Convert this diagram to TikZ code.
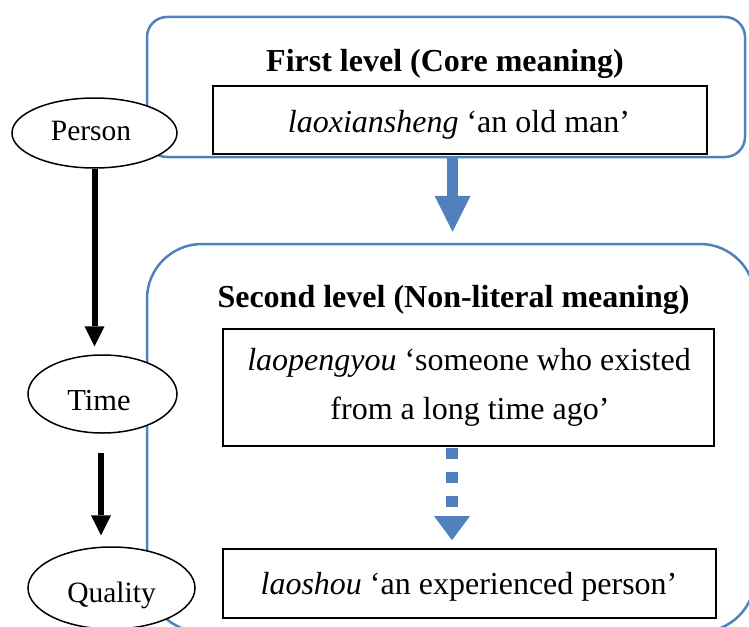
\documentclass[tikz,border=0pt]{standalone}
\usepackage{fontspec}
\setmainfont{Liberation Serif}
\usetikzlibrary{arrows.meta,shapes.geometric,calc}
\definecolor{obl}{RGB}{79,129,189}
\begin{document}
\begin{tikzpicture}[x=1pt,y=-1pt,
  levelbox/.style={draw=obl,line width=2.5pt,inner sep=0pt,minimum width=#1},
  textbox/.style={draw=black,fill=white,line width=1.8pt,inner sep=0pt},
  oval/.style={ellipse,draw=black,fill=white,line width=1.5pt,inner sep=0pt},
  boxtext/.style={anchor=base,inner sep=0pt,font=\fontsize{32}{49}\selectfont},
  titletext/.style={anchor=base,inner sep=0pt,font=\fontsize{32}{49}\selectfont\bfseries},
  ovaltext/.style={anchor=base,inner sep=0pt,font=\fontsize{29.5}{36}\selectfont},
  blkarrow/.style={draw=black,line width=6pt,-{Triangle[width=20pt,length=20pt,line width=0pt]}},
  bluearrow/.style={draw=obl,line width=11pt,-{Triangle[width=36pt,length=36pt,line width=0pt]}},
  bluedash/.style={draw=obl,line width=12pt,dash pattern=on 11.5pt off 12.5pt,-{Triangle[width=36pt,length=24pt,line width=0pt]}}
]
\useasboundingbox (0,0) rectangle (749,626);
\begin{scope}
  \clip (0,0) rectangle (749,626);
  \node[levelbox=608pt,minimum height=388pt,rounded corners=55pt] (lvl2) at (451,438) {};
\end{scope}
\node[levelbox=598pt,minimum height=140pt,rounded corners=20pt] (lvl1) at (446,87) {};

% inner boxes
\node[textbox,minimum width=494pt,minimum height=68pt] (b1) at (460,120) {};
\node[textbox,minimum width=491pt,minimum height=117pt] (b2) at (468.5,387.5) {};
\node[textbox,minimum width=493pt,minimum height=69pt] (b3) at (469.5,583.5) {};

% titles and texts
\node[titletext] (title1) at (445,71) {First level (Core meaning)};
\node[titletext] (title2) at (453.5,307) {Second level (Non-literal meaning)};
\node[boxtext] (t1) at (459,132) {\textit{laoxiansheng} ‘an old man’};
\node[boxtext] (t2a) at (469,370) {\textit{laopengyou} ‘someone who existed};
\node[boxtext] (t2b) at (470,419) {from a long time ago’};
\node[boxtext] (t3) at (469,594) {\textit{laoshou} ‘an experienced person’};

% ovals
\node[oval,minimum width=165pt,minimum height=70pt] (person) at (94.5,133) {};
\node[oval,minimum width=149pt,minimum height=78pt] (time) at (102.5,394) {};
\node[oval,minimum width=167pt,minimum height=82pt] (quality) at (111.5,588) {};
\node[ovaltext] (personl) at (91,140) {Person};
\node[ovaltext,font=\fontsize{30.5}{36}\selectfont] (timel) at (99,410) {Time};
\node[ovaltext] (qualityl) at (111.5,602) {Quality};

% connectors
\draw[blkarrow,shorten >=8pt] (person.south) -- (person.south |- time.north);
\draw[blkarrow,shorten <=19pt,shorten >=11pt] ([xshift=-1.5pt]time.south) -- ([xshift=-1.5pt]time.south |- quality.north);
\draw[bluearrow,shorten >=11pt] ([xshift=-7.5pt]b1.south |- lvl1.south) -- ([xshift=-7.5pt]b1.south |- lvl2.north);
\draw[bluedash,shorten <=1pt,shorten >=8pt] ([xshift=-16.5pt]b2.south) -- ([xshift=-16.5pt]b2.south |- b3.north);
\end{tikzpicture}
\end{document}
